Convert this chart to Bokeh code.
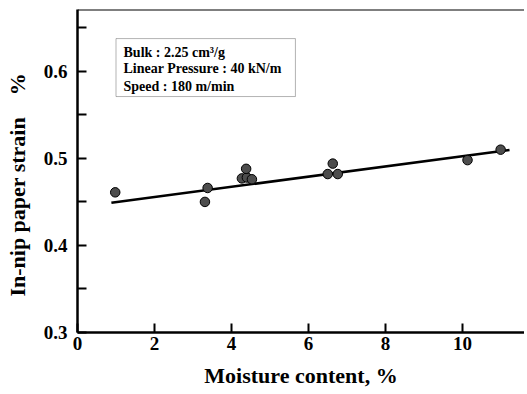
from bokeh.plotting import figure
from bokeh.models import (Range1d, FixedTicker, Span, BoxAnnotation, Label)
from bokeh.embed import file_html
from bokeh.resources import INLINE

# data
moisture = [0.98, 3.31, 3.38, 4.27, 4.40, 4.53, 4.38, 6.50, 6.63, 6.76, 10.13, 10.99]
strain = [0.461, 0.450, 0.466, 0.477, 0.478, 0.476, 0.488, 0.482, 0.494, 0.482, 0.498, 0.510]
fit_x = [0.88, 11.22]
fit_y = [0.449, 0.5096]
x_ticks = [0, 2, 4, 6, 8, 10]
y_ticks = [0.3, 0.4, 0.5, 0.6]
y_minor = [0.35, 0.45, 0.55, 0.65]
info_lines = ["Bulk : 2.25 cm\u00b3/g", "Linear Pressure : 40 kN/m", "Speed : 180 m/min"]
info_y = [0.622, 0.603, 0.583]
x_title = "Moisture content, %"
y_title = "In-nip paper strain" + "\u00a0" * 4 + "%" + "\u00a0" * 5

FONT = "Liberation Serif"
X_END = 11.61
Y_END = 0.671

p = figure(width=524, height=393, output_backend="svg", toolbar_location=None,
           x_range=Range1d(0, X_END), y_range=Range1d(0.3, Y_END),
           min_border_left=77, min_border_right=0, min_border_top=9,
           min_border_bottom=61)
p.outline_line_color = None
p.grid.visible = False
p.background_fill_color = "white"

p.line(fit_x, fit_y, line_color="black", line_width=2.5)
p.scatter(moisture, strain, size=9.5, fill_color="#4d4d4d", line_color="black",
          line_width=1)

# axes
for ax in (p.xaxis[0], p.yaxis[0]):
    ax.axis_line_width = 2.5
    ax.axis_line_color = "black"
    ax.major_tick_line_width = 2
    ax.minor_tick_line_width = 2
    ax.major_tick_in = 9
    ax.major_tick_out = 0
    ax.minor_tick_in = 9
    ax.minor_tick_out = 0
    ax.major_label_text_font = FONT
    ax.major_label_text_font_style = "bold"
    ax.major_label_text_font_size = "19px"
    ax.major_label_text_color = "black"
    ax.axis_label_text_font = FONT
    ax.axis_label_text_font_style = "bold"
    ax.axis_label_text_font_size = "22px"
    ax.axis_label_text_color = "black"

p.xaxis.ticker = FixedTicker(ticks=x_ticks)
p.xaxis.minor_tick_line_color = None
p.xaxis.major_label_standoff = 4
p.xaxis.axis_label = x_title
p.xaxis.axis_label_standoff = 10

p.yaxis.ticker = FixedTicker(ticks=y_ticks, minor_ticks=y_minor)
p.yaxis.major_label_standoff = 10
p.yaxis.axis_label = y_title
p.yaxis.axis_label_standoff = 11

p.add_layout(Span(location=Y_END, dimension="width", line_color="black", line_width=2))

# info box
p.add_layout(BoxAnnotation(left=1.0, right=5.66, top=0.6376, bottom=0.571,
                           fill_color="white", fill_alpha=1.0,
                           line_color="black", line_width=1))
for t, yy in zip(info_lines, info_y):
    p.add_layout(Label(x=1.195, y=yy, text=t, text_font=FONT,
                       text_font_size="14px", text_font_style="bold",
                       text_baseline="middle", text_color="black"))

open("out.html", "w").write(file_html(p, INLINE))
